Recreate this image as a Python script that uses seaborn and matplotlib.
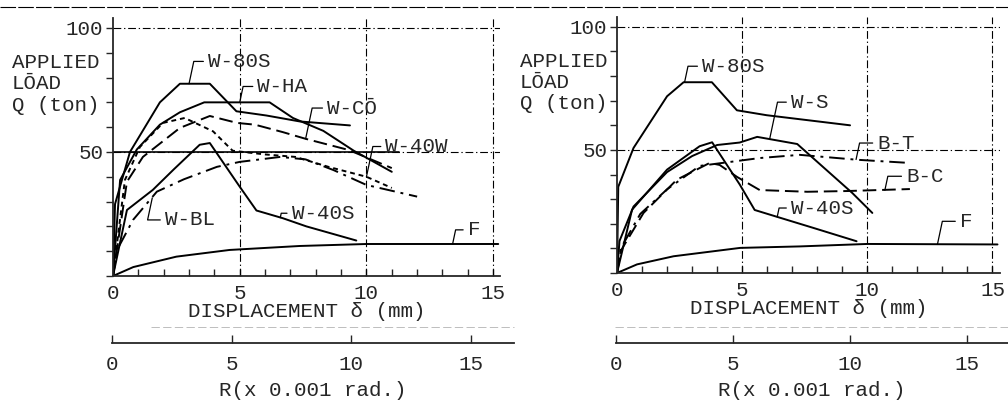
import matplotlib
matplotlib.use('Agg')
import matplotlib.pyplot as plt
from matplotlib.lines import Line2D
import seaborn as sns

# ---------------- data (delta mm, Q ton) ----------------
# left panel
l_80s_x = [0, 0.08, 0.67, 1.85, 2.64, 3.82, 4.87, 6.05, 7.37, 9.35]
l_80s_y = [0, 29, 50, 70, 77.5, 77.5, 66.4, 64.7, 62.3, 60.7]
l_ha_x = [0, 0.28, 0.94, 1.85, 2.64, 3.6, 6.18, 7.1, 8.3, 9.5, 11.0]
l_ha_y = [0, 38.7, 51, 61, 66, 70, 70, 63.7, 58.5, 50.5, 42]
l_co_x = [0, 0.55, 1.18, 2.64, 3.82, 4.9, 5.6, 6.7, 7.6, 9.3, 11.0]
l_co_y = [0, 38, 48, 59.7, 64.5, 61.7, 61, 58, 55.3, 50.8, 43.5]
l_40w_x = [0, 0.47, 1.06, 1.97, 2.83, 3.95, 4.72, 6.0, 7.2, 8.5, 10.0, 11.0]
l_40w_y = [0, 38.7, 52, 61.7, 63.7, 58.3, 50.5, 49, 48, 44, 40, 35.5]
l_bl_x = [0, 0.16, 0.79, 1.73, 2.8, 4.1, 5.0, 6.6, 7.6, 8.7, 10.0, 12.0]
l_bl_y = [0, 10.5, 22.6, 34, 39, 44, 46, 48, 47, 42.7, 36.7, 32]
l_40s_x = [0, 0.55, 1.57, 2.4, 3.42, 3.82, 5.0, 5.66, 6.7, 7.63, 9.6]
l_40s_y = [0, 26.6, 34.7, 43, 52.9, 53.6, 36, 26.4, 23.3, 20, 14.3]
l_f_x = [0, 0.8, 2.5, 4.6, 7.37, 10, 15.2]
l_f_y = [0, 3.6, 7.8, 10.5, 12.1, 12.9, 12.9]

# right panel
r_80s_x = [0, 0.05, 0.66, 2.0, 2.66, 3.79, 4.79, 5.98, 9.31]
r_80s_y = [0, 35, 50.8, 71.8, 77.5, 77.5, 66.1, 64.1, 60]
r_s_x = [0, 0.1, 0.66, 2.0, 3.0, 4.0, 4.9, 5.6, 7.2, 9.4, 10.2]
r_s_y = [0, 13, 27, 41, 47.5, 52, 53, 55.3, 52.4, 32.5, 24.4]
r_40s_x = [0, 0.6, 2.0, 3.3, 3.8, 4.9, 5.5, 6.4, 7.85, 9.57]
r_40s_y = [0, 25.7, 42, 51.5, 53.1, 36, 25.6, 22.8, 18.3, 12.9]
r_bt_x = [0, 0.15, 0.93, 2.0, 3.3, 5.7, 7.3, 9.6, 11.7]
r_bt_y = [0, 10, 24, 34, 43.5, 46.7, 48, 46, 44.7]
r_bc_x = [0, 0.15, 1.06, 2.39, 3.7, 4.1, 4.8, 5.7, 7.6, 9.2, 11.7]
r_bc_y = [0, 9, 24.4, 37.9, 44.7, 43.9, 39, 33.7, 33, 33.3, 34.1]
r_f_x = [0, 0.8, 2.26, 4.92, 7.3, 10, 15.2]
r_f_y = [0, 3.5, 6.8, 10.2, 10.8, 11.8, 11.6]

delta_ticks = [0, 5, 10, 15]
r_ticks = [0, 5, 10, 15]

sns.set_style('ticks')
plt.rcParams['font.family'] = ['Liberation Mono', 'DejaVu Sans Mono']
plt.rcParams['font.size'] = 15
plt.rcParams['axes.linewidth'] = 1.3

SOLID = '-'
LONG = (0, (7, 3))
SHORT = (0, (2.5, 2))
DASHDOT = (0, (8, 3, 1.5, 3))
GRID = (0, (7, 2.5, 1.2, 2.5))

left_curves = [
    (l_80s_x, l_80s_y, SOLID), (l_ha_x, l_ha_y, SOLID), (l_co_x, l_co_y, LONG),
    (l_40w_x, l_40w_y, SHORT), (l_bl_x, l_bl_y, DASHDOT),
    (l_40s_x, l_40s_y, SOLID), (l_f_x, l_f_y, SOLID),
]
right_curves = [
    (r_80s_x, r_80s_y, SOLID), (r_s_x, r_s_y, SOLID), (r_40s_x, r_40s_y, SOLID),
    (r_bt_x, r_bt_y, DASHDOT), (r_bc_x, r_bc_y, LONG), (r_f_x, r_f_y, SOLID),
]
# label text, point on curve, text anchor
left_labels = [
    ('W-80S', (3.0, 77.5), (3.75, 86.5)), ('W-HA', (5.0, 70), (5.7, 76.4)),
    ('W-CŌ', (7.6, 55.3), (8.45, 67.7)), ('W-40W', (10.0, 40), (10.75, 52.2)),
    ('W-40S', (6.6, 23.5), (7.05, 25.3)), ('W-BL', (1.55, 31.5), (2.05, 22.6)),
    ('F', (13.4, 12.9), (14.0, 18.6)),
]
right_labels = [
    ('W-80S', (2.7, 77.5), (3.4, 84)), ('W-S', (6.1, 54.5), (6.95, 69.4)),
    ('B-T', (9.55, 46.1), (10.4, 52.8)), ('B-C', (10.7, 33.6), (11.55, 39.3)),
    ('W-40S', (6.4, 22.8), (6.95, 26.4)), ('F', (12.8, 11.6), (13.7, 21)),
]

fig = plt.figure(figsize=(10.08, 4.09), dpi=100)


def panel(rect, xmax, curves, labels, ylab_x, solid50=None):
    ax = fig.add_axes(rect)
    for x, y, ls in curves:
        sns.lineplot(x=x, y=y, ax=ax, color='black', linewidth=1.4, linestyle=ls,
                     sort=False, estimator=None, legend=False)
    ax.set_xlim(0, xmax)
    ax.set_ylim(0, 104)
    sns.despine(ax=ax)
    ax.set_xticks(delta_ticks)
    ax.set_xticks(range(0, 16), minor=True)
    ax.set_yticks(range(0, 101, 10))
    ax.set_yticklabels([str(v) if v in (50, 100) else '' for v in range(0, 101, 10)])
    ax.tick_params(axis='x', which='both', direction='in', length=5, width=1, pad=6)
    ax.tick_params(axis='y', direction='out', length=5, width=1, pad=2)
    for v in (5, 10, 15):
        ax.axvline(v, color='black', lw=0.8, ls=GRID)
    for v in (50, 100):
        ax.axhline(v, color='black', lw=0.8, ls=GRID)
    if solid50:
        ax.plot([0, solid50], [50, 50], color='black', lw=1.2)
    ax.set_xlabel('DISPLACEMENT δ (mm)', labelpad=-1)
    ax.set_ylabel('')
    ax.text(ylab_x, 0.745, 'APPLIED\nLŌAD\nQ (ton)', transform=ax.transAxes,
            ha='left', va='center', linespacing=1.15)
    for txt, xy, xyt in labels:
        ax.annotate(txt, xy=xy, xytext=xyt, ha='left', va='center',
                    arrowprops=dict(arrowstyle='-', lw=0.9, color='black',
                                    connectionstyle='angle,angleA=0,angleB=78,rad=0',
                                    relpos=(0, 0.5), shrinkA=1, shrinkB=0))
    return ax


def r_axis(rect, xmax):
    axr = fig.add_axes(rect)
    axr.patch.set_visible(False)
    axr.set_xlim(0, xmax)
    axr.set_yticks([])
    for s in ('top', 'left', 'right'):
        axr.spines[s].set_visible(False)
    axr.set_xticks(r_ticks)
    axr.tick_params(axis='x', direction='in', length=6, width=1, pad=9)
    axr.set_xlabel('R(x 0.001 rad.)', labelpad=5)
    return axr


panel([113 / 1008, 133 / 409, 387 / 1008, 258 / 409], 15.27, left_curves, left_labels,
      -0.262, solid50=11.3)
panel([617 / 1008, 136 / 409, 383 / 1008, 256 / 409], 15.3, right_curves, right_labels,
      -0.253)
r_axis([112 / 1008, 66 / 409, 402 / 1008, 0.0005], 16.8)
r_axis([616 / 1008, 66 / 409, 392 / 1008, 0.0005], 16.75)

# scan edge lines
fig.add_artist(Line2D([0, 1], [0.983, 0.983], color='black', lw=0.8, ls=(0, (14, 2))))
for x0, x1 in ((0.15, 0.51), (0.61, 1.0)):
    fig.add_artist(Line2D([x0, x1], [0.2, 0.2], color='gray', lw=0.6,
                          ls=(0, (10, 4)), alpha=0.6))

fig.savefig('out.png', dpi=100)
